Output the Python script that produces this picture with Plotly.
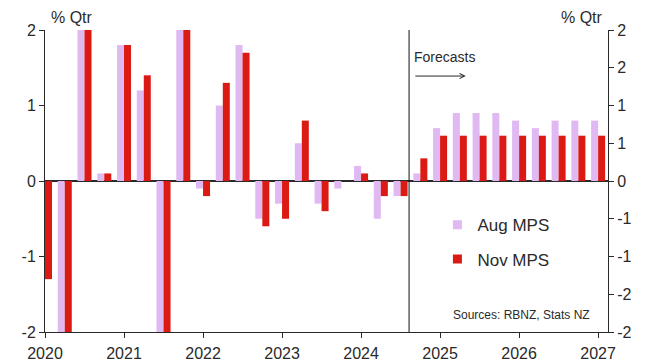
import plotly.graph_objects as go

# Quarterly GDP growth, % q/q, 2020 Q1 to 2027 Q1
quarters = [f"{y}Q{q}" for y in range(2020, 2028) for q in range(1, 5)][:29]
aug_mps = [-1.4, -10.0, 13.9, 0.1, 1.8, 1.2, -3.7, 3.0,
           -0.1, 1.0, 1.8, -0.5, -0.3, 0.5, -0.3, -0.1,
           0.2, -0.5, -0.2, 0.1, 0.7, 0.9, 0.9, 0.9,
           0.8, 0.7, 0.8, 0.8, 0.8]
nov_mps = [-1.3, -10.3, 14.0, 0.1, 1.8, 1.4, -3.7, 3.2,
           -0.2, 1.3, 1.7, -0.6, -0.5, 0.8, -0.4, 0.0,
           0.1, -0.2, -0.2, 0.3, 0.6, 0.6, 0.6, 0.6,
           0.6, 0.6, 0.6, 0.6, 0.6]

year_ticks = [0, 4, 8, 12, 16, 20, 24, 28]
year_labels = ["2020", "2021", "2022", "2023", "2024", "2025", "2026", "2027"]
left_ticks = [-2, -1, 0, 1, 2]
left_labels = ["-2", "-1", "0", "1", "2"]
right_ticks = [-2, -1.5, -1, -0.5, 0, 0.5, 1, 1.5, 2]
right_labels = ["-2", "-2", "-1", "-1", "0", "1", "1", "2", "2"]
forecast_start = 18.43

PINK = "#E0B9F2"
RED = "#DC1A14"
INK = "#2a2a2a"
FONT = "Liberation Sans, Arial, sans-serif"

x = list(range(len(quarters)))

fig = go.Figure()
fig.add_trace(go.Bar(x=x, y=aug_mps, marker=dict(color=PINK, line=dict(width=0)),
                     name="Aug MPS", showlegend=False, hovertext=quarters))
fig.add_trace(go.Bar(x=x, y=nov_mps, marker=dict(color=RED, line=dict(width=0)),
                     name="Nov MPS", showlegend=False, hovertext=quarters))

# legend entries with small square swatches
fig.add_trace(go.Scatter(x=[None], y=[None], mode="markers", name="Aug MPS",
                         marker=dict(symbol="square", size=9, color=PINK),
                         legendgroup="a", yaxis="y2"))
fig.add_trace(go.Scatter(x=[None], y=[None], mode="markers", name="Nov MPS",
                         marker=dict(symbol="square", size=9, color=RED),
                         legendgroup="b", yaxis="y2"))

axis_common = dict(showline=True, linecolor=INK, linewidth=1, ticks="outside",
                   ticklen=5, tickcolor=INK, showgrid=False, automargin=False,
                   tickfont=dict(family=FONT, size=16, color=INK))

fig.update_layout(
    width=647, height=363,
    margin=dict(l=45, r=39, t=30, b=31),
    paper_bgcolor="white", plot_bgcolor="white",
    barmode="group", bargap=0.29, bargroupgap=0,
    font=dict(family=FONT, color=INK),
    xaxis=dict(range=[0, 28.5], tickvals=year_ticks, ticktext=year_labels,
               zeroline=False, ticklabelstandoff=2, **axis_common),
    yaxis=dict(range=[-2, 2], tickvals=left_ticks, ticktext=left_labels,
               zeroline=True, zerolinecolor=INK, zerolinewidth=2, **axis_common),
    yaxis2=dict(range=[-2, 2], overlaying="y", side="right", anchor="x",
                tickvals=right_ticks, ticktext=right_labels, zeroline=False,
                **axis_common),
    legend=dict(x=0.697, y=0.413, xanchor="left", yanchor="top",
                bgcolor="rgba(0,0,0,0)", tracegroupgap=9,
                font=dict(family=FONT, size=17, color=INK)),
    showlegend=True,
)

fig.add_shape(type="line", xref="x", yref="paper", x0=forecast_start, x1=forecast_start,
              y0=0, y1=1, line=dict(color="#111111", width=1))

fig.add_annotation(xref="x", yref="y", x=21.3, y=1.39, axref="x", ayref="y",
                   ax=18.67, ay=1.39, text="", showarrow=True, arrowhead=5,
                   arrowsize=1, arrowwidth=1, arrowcolor=INK, standoff=0)
fig.add_annotation(xref="x", yref="y", x=18.6, y=1.64, text="Forecasts",
                   showarrow=False, xanchor="left", yanchor="middle",
                   font=dict(family=FONT, size=14, color=INK))
fig.add_annotation(xref="paper", yref="paper", x=0.007, y=1.04, text="% Qtr",
                   showarrow=False, xanchor="left", yanchor="middle",
                   font=dict(family=FONT, size=16, color=INK))
fig.add_annotation(xref="paper", yref="paper", x=0.995, y=1.04, text="% Qtr",
                   showarrow=False, xanchor="right", yanchor="middle",
                   font=dict(family=FONT, size=16, color=INK))
fig.add_annotation(xref="paper", yref="paper", x=0.972, y=0.056,
                   text="Sources: RBNZ, Stats NZ", showarrow=False,
                   xanchor="right", yanchor="middle",
                   font=dict(family=FONT, size=12, color=INK))

fig.write_html("out.html")
